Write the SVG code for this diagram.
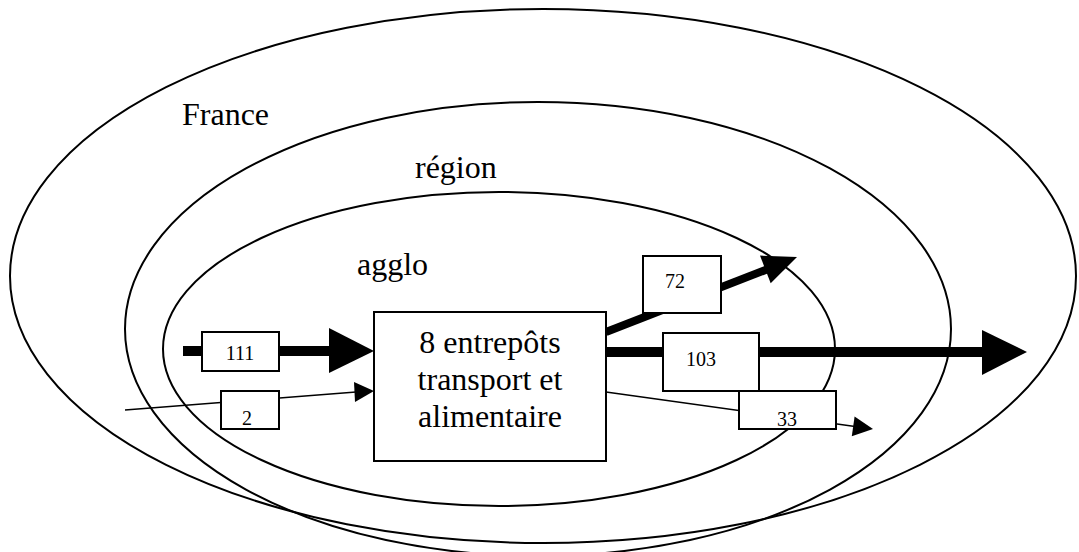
<svg xmlns="http://www.w3.org/2000/svg" width="1079" height="552" viewBox="0 0 1079 552">
<style>
.zone{fill:none;stroke:#000;stroke-width:2}
.lbl{font-family:"Liberation Serif","Times New Roman",serif;font-size:32px;fill:#000}
.num{font-family:"Liberation Serif","Times New Roman",serif;font-size:20px;fill:#000;text-anchor:middle}
.box{fill:#fff;stroke:#000;stroke-width:2}
.thick{stroke:#000;fill:none}
.thin{stroke:#000;stroke-width:1.5;fill:none}
.head{fill:#000;stroke:none}
</style>
<defs>
<clipPath id="c2"><rect x="221" y="391" width="58" height="38"/></clipPath>
<clipPath id="c33"><rect x="739" y="391" width="97" height="38"/></clipPath>
</defs>
<rect width="1079" height="552" fill="#fff"/>
<g id="zones">
<ellipse id="france" class="zone" cx="543" cy="276" rx="533" ry="267"/>
<ellipse id="region" class="zone" cx="538" cy="329" rx="413" ry="227"/>
<ellipse id="agglo" class="zone" cx="499" cy="349" rx="336" ry="157"/>
<text class="lbl" x="182" y="125">France</text>
<text class="lbl" x="415" y="178">région</text>
<text class="lbl" x="357" y="275">agglo</text>
</g>
<g id="connectors">
<line class="thick" x1="183" y1="351" x2="332" y2="351" stroke-width="10"/>
<polygon class="head" points="329,328 374,351 329,373"/>
<line class="thin" x1="125" y1="410" x2="356" y2="392"/>
<polygon class="head" points="354,382 374,391 355,402"/>
<line class="thick" x1="606" y1="332" x2="768" y2="269" stroke-width="8"/>
<polygon class="head" points="760,255.6 797,257 770.7,283.2"/>
<line class="thick" x1="606" y1="352" x2="985" y2="352" stroke-width="10"/>
<polygon class="head" points="982,330 1027,352 982,375"/>
<line class="thin" x1="606" y1="392" x2="855" y2="426.5"/>
<polygon class="head" points="854.6,416.4 873,429 851.8,436.2"/>
</g>
<g id="n111">
<rect class="box" x="202" y="332" width="77" height="39"/>
<text class="num" x="240" y="360">111</text>
</g>
<g id="n2">
<rect class="box" x="221" y="391" width="58" height="38"/>
<text class="num" x="247" y="425" clip-path="url(#c2)">2</text>
</g>
<g id="n72">
<rect class="box" x="643" y="256" width="78" height="57"/>
<text class="num" x="675" y="288">72</text>
</g>
<g id="n103">
<rect class="box" x="663" y="333" width="96" height="58"/>
<text class="num" x="701" y="366">103</text>
</g>
<g id="n33">
<rect class="box" x="739" y="391" width="97" height="38"/>
<text class="num" x="787" y="426" clip-path="url(#c33)">33</text>
</g>
<g id="entrepots">
<rect class="box" x="374" y="312" width="232" height="149"/>
<text class="lbl" text-anchor="middle" x="490" y="353">8 entrepôts</text>
<text class="lbl" text-anchor="middle" x="490" y="390">transport et</text>
<text class="lbl" text-anchor="middle" x="490" y="427">alimentaire</text>
</g>
</svg>
